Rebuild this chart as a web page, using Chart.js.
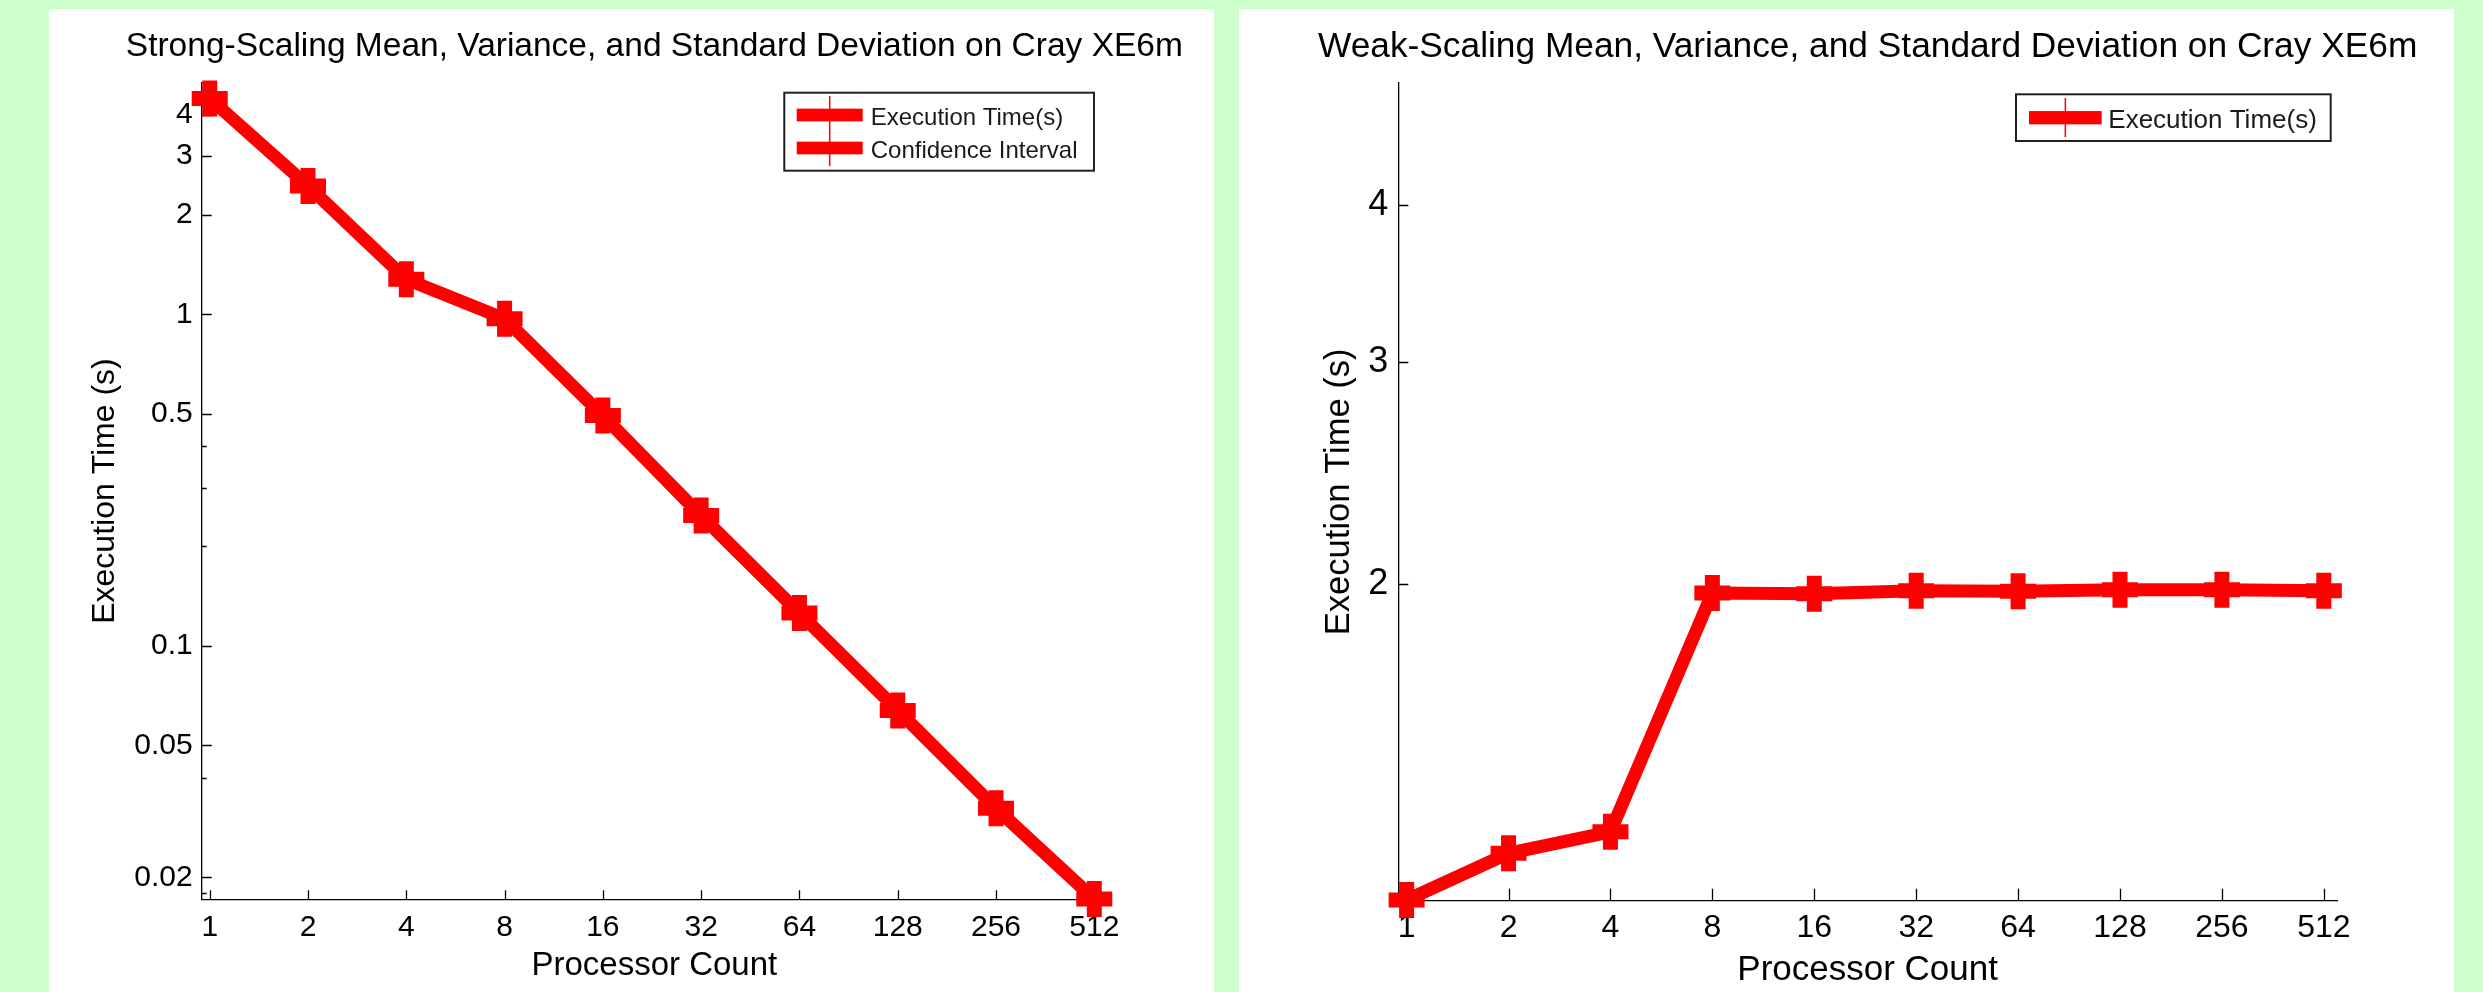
<!DOCTYPE html>
<html>
<head>
<meta charset="utf-8">
<title>Strong and Weak Scaling on Cray XE6m</title>
<script src="https://cdn.jsdelivr.net/npm/chart.js@4.4.1/dist/chart.umd.min.js"></script>
<style>
    html, body { margin: 0; padding: 0; }
    body { width: 2483px; height: 992px; background: #ccffcc; position: relative; overflow: hidden; }
    .panel { position: absolute; background: #fff; }
    .panel canvas { display: block; }
    #strong-panel { left: 49px; top: 9px; width: 1165px; height: 983px; }
    #weak-panel { left: 1239px; top: 9px; width: 1215px; height: 983px; }
</style>
</head>
<body>
<div class="panel" id="strong-panel"><canvas id="chart-strong" width="1165" height="983"></canvas></div>
<div class="panel" id="weak-panel"><canvas id="chart-weak" width="1215" height="983"></canvas></div>
<script>
// Processor counts (x axis, log2 spacing)
var procCounts = [1, 2, 4, 8, 16, 32, 64, 128, 256, 512];

// Mean execution time in seconds
var strongTimes = [4.48, 2.44, 1.276, 0.97, 0.495, 0.247, 0.1255, 0.0638, 0.0323, 0.0172];
var weakTimes = [1.121, 1.221, 1.270, 1.966, 1.963, 1.974, 1.972, 1.978, 1.978, 1.974];

// Y tick labels and the unlabeled minor ticks
var strongYLabels = [0.02, 0.05, 0.1, 0.5, 1, 2, 3, 4];
var strongYMinor = [0.018, 0.04, 0.2, 0.3, 0.4];
var weakYLabels = [2, 3, 4];

// Legend entries
var strongLegend = ["Execution Time(s)", "Confidence Interval"];
var weakLegend = ["Execution Time(s)"];

var FONT = "'Liberation Sans', Arial, Helvetica, sans-serif";

function toPoints(values) {
    return procCounts.map(function (p, i) {
        return { x: p, y: values[i] };
    });
}

function fixedTicks(values) {
    return function (scale) {
        scale.ticks = values.map(function (v) { return { value: v }; });
    };
}

// Title centred over the plot area, allowed to run wider than it
var plotTitle = {
    id: "plotTitle",
    afterDraw: function (chart, args, o) {
        var ctx = chart.ctx;
        var area = chart.chartArea;
        ctx.save();
        ctx.fillStyle = "#000";
        ctx.font = o.size + "px " + FONT;
        ctx.textAlign = "center";
        ctx.textBaseline = "middle";
        ctx.fillText(o.text, (area.left + area.right) / 2, o.y);
        ctx.restore();
    }
};

// MATLAB style tick marks pointing into the plot
var inwardTicks = {
    id: "inwardTicks",
    beforeDatasetsDraw: function (chart, args, opts) {
        var ctx = chart.ctx;
        var area = chart.chartArea;
        var xs = chart.scales.x;
        var ys = chart.scales.y;
        ctx.save();
        ctx.strokeStyle = "#000";
        ctx.lineWidth = 1.3;
        ctx.beginPath();
        procCounts.forEach(function (v) {
            var px = Math.round(xs.getPixelForValue(v)) + 0.5;
            ctx.moveTo(px, area.bottom);
            ctx.lineTo(px, area.bottom - opts.xLen);
        });
        opts.yMajor.forEach(function (v) {
            var py = Math.round(ys.getPixelForValue(v)) + 0.5;
            ctx.moveTo(area.left, py);
            ctx.lineTo(area.left + opts.yMajorLen, py);
        });
        opts.yMinor.forEach(function (v) {
            var py = Math.round(ys.getPixelForValue(v)) + 0.5;
            ctx.moveTo(area.left, py);
            ctx.lineTo(area.left + opts.yMinorLen, py);
        });
        ctx.stroke();
        ctx.restore();
    }
};

// Boxed legend inside the plot, upper right
var boxLegend = {
    id: "boxLegend",
    afterDatasetsDraw: function (chart, args, o) {
        var ctx = chart.ctx;
        ctx.save();
        ctx.fillStyle = "#fff";
        ctx.fillRect(o.x, o.y, o.w, o.h);
        ctx.strokeStyle = "#222";
        ctx.lineWidth = 2;
        ctx.strokeRect(o.x, o.y, o.w, o.h);
        ctx.font = o.fontSize + "px " + FONT;
        ctx.textBaseline = "middle";
        o.labels.forEach(function (txt, i) {
            var cy = o.rowY[i];
            ctx.fillStyle = "#ff0000";
            ctx.fillRect(o.barX, cy - o.barH / 2, o.barW, o.barH);
            ctx.fillStyle = "#1a1a1a";
            ctx.fillText(txt, o.textX, cy + 3);
        });
        ctx.strokeStyle = "#ff0000";
        ctx.lineWidth = 1.5;
        ctx.beginPath();
        ctx.moveTo(o.barX + o.barW / 2, o.lineTop);
        ctx.lineTo(o.barX + o.barW / 2, o.lineBottom);
        ctx.stroke();
        ctx.restore();
    }
};

function CreateChart(id, c) {
    return new Chart(document.getElementById(id), {
        type: "line",
        data: {
            datasets: [{
                label: c.legend.labels[0],
                data: toPoints(c.values),
                borderColor: "#ff0000",
                backgroundColor: "#ff0000",
                borderWidth: 13,
                pointStyle: "cross",
                pointRadius: 18,
                pointBorderWidth: 15,
                pointBorderColor: "#ff0000",
                pointBackgroundColor: "#ff0000",
                tension: 0,
                clip: false
            }]
        },
        options: {
            responsive: false,
            animation: false,
            events: [],
            layout: { padding: { left: 0, right: c.padRight, top: c.padTop, bottom: 0 } },
            plugins: {
                legend: { display: false },
                tooltip: { enabled: false },
                title: { display: false },
                plotTitle: c.title,
                inwardTicks: c.ticks,
                boxLegend: c.legend
            },
            scales: {
                x: {
                    type: "logarithmic",
                    min: 0.945,
                    max: 560,
                    afterBuildTicks: fixedTicks(procCounts),
                    afterFit: function (s) { s.height = c.xHeight; },
                    grid: { display: false, drawTicks: false },
                    border: { display: true, color: "#000", width: 1.3 },
                    ticks: {
                        autoSkip: false,
                        maxRotation: 0,
                        padding: c.xTickPad,
                        color: "#000",
                        font: { family: FONT, size: c.xTickSize },
                        callback: function (v) { return String(v); }
                    },
                    title: {
                        display: true,
                        text: "Processor Count",
                        color: "#000",
                        font: { family: FONT, size: c.xTitleSize },
                        padding: { top: 0, bottom: c.xTitlePad }
                    }
                },
                y: {
                    type: "logarithmic",
                    min: c.yMin,
                    max: c.yMax,
                    afterBuildTicks: fixedTicks(c.yLabels.concat(c.ticks.yMinor)),
                    afterFit: function (s) { s.width = c.yWidth; },
                    grid: { display: false, drawTicks: false },
                    border: { display: true, color: "#000", width: 1.3 },
                    ticks: {
                        autoSkip: false,
                        padding: c.yTickPad,
                        color: "#000",
                        font: { family: FONT, size: c.yTickSize },
                        callback: function (v) {
                            return c.yLabels.indexOf(v) >= 0 ? String(v) : "";
                        }
                    },
                    title: {
                        display: true,
                        text: "Execution Time (s)",
                        color: "#000",
                        font: { family: FONT, size: c.yTitleSize },
                        padding: { top: c.yTitlePad, bottom: 0 }
                    }
                }
            }
        },
        plugins: [inwardTicks, boxLegend, plotTitle]
    });
}

// Strong scaling chart
CreateChart("chart-strong", {
    title: { text: "Strong-Scaling Mean, Variance, and Standard Deviation on Cray XE6m", size: 33.5, y: 38 },
    values: strongTimes,
    yLabels: strongYLabels,
    yMin: 0.01717, yMax: 5.0,
    padTop: 73.7, padRight: 107, yWidth: 152.7, xHeight: 92.7,
    xTickSize: 30, xTickPad: 10,
    yTickSize: 30, yTickPad: 9,
    xTitleSize: 33, xTitlePad: 6.5,
    yTitleSize: 32, yTitlePad: 37,
    ticks: { xLen: 9, yMajor: strongYLabels, yMinor: strongYMinor, yMajorLen: 10, yMinorLen: 5 },
    legend: {
        labels: strongLegend,
        x: 735.3, y: 83.7, w: 309.7, h: 78,
        barX: 747.7, barW: 66, barH: 12.7, rowY: [106, 139],
        lineTop: 87, lineBottom: 157,
        textX: 821.7, fontSize: 24
    }
});

// Weak scaling chart
CreateChart("chart-weak", {
    title: { text: "Weak-Scaling Mean, Variance, and Standard Deviation on Cray XE6m", size: 35.3, y: 38 },
    values: weakTimes,
    yLabels: weakYLabels,
    yMin: 1.1195, yMax: 5.0,
    padTop: 74, padRight: 117, yWidth: 159.3, xHeight: 91.3,
    xTickSize: 32, xTickPad: 8.5,
    yTickSize: 36, yTickPad: 10,
    xTitleSize: 35, xTitlePad: 1,
    yTitleSize: 34.6, yTitlePad: 80,
    ticks: { xLen: 12, yMajor: weakYLabels, yMinor: [], yMajorLen: 10, yMinorLen: 5 },
    legend: {
        labels: weakLegend,
        x: 777, y: 85.3, w: 314.7, h: 46.7,
        barX: 790, barW: 72.7, barH: 13.3, rowY: [108.7],
        lineTop: 89, lineBottom: 128,
        textX: 869.3, fontSize: 26
    }
});
</script>
</body>
</html>
